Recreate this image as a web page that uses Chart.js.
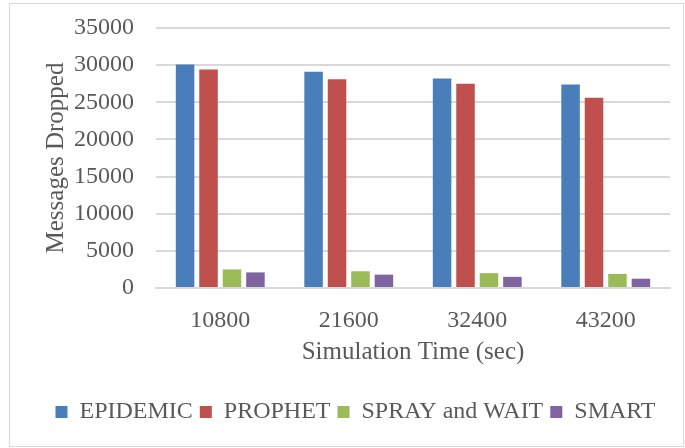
<!DOCTYPE html>
<html>
<head>
<meta charset="utf-8">
<script src="https://cdn.jsdelivr.net/npm/chart.js@4.4.1/dist/chart.umd.min.js"></script>
<style>
  html, body { margin: 0; padding: 0; background: #fff; }
  #wrap { position: relative; width: 685px; height: 448px; }
</style>
</head>
<body>
<div id="wrap"><canvas id="chart" width="685" height="448"></canvas></div>
<script>
// data
const categories = ['10800', '21600', '32400', '43200'];
const epidemic = [30100, 29100, 28200, 27400];
const prophet = [29400, 28100, 27500, 25600];
const sprayWait = [2500, 2250, 2000, 1900];
const smart = [2100, 1800, 1500, 1250];

const yMax = 35000;
const yStep = 5000;

const fontFamily = '"Liberation Serif", "Times New Roman", serif';
const textColor = '#595959';

// light frame around the whole chart, like the Excel export
const framePlugin = {
    id: 'frame',
    afterDraw(chart) {
        const ctx = chart.ctx;
        ctx.save();
        ctx.strokeStyle = '#d9d9d9';
        ctx.lineWidth = 1;
        ctx.strokeRect(9.5, 3.5, 674, 443);
        ctx.restore();
    }
};

const series = [
    { label: 'EPIDEMIC', data: epidemic, color: '#4a7ebb' },
    { label: 'PROPHET', data: prophet, color: '#c0504d' },
    { label: 'SPRAY and WAIT', data: sprayWait, color: '#9bbb59' },
    { label: 'SMART', data: smart, color: '#8064a2' }
];

new Chart(document.getElementById('chart'), {
    type: 'bar',
    data: {
        labels: categories,
        datasets: series.map(s => ({
            label: s.label,
            data: s.data,
            backgroundColor: s.color,
            borderWidth: 0,
            categoryPercentage: 0.73,
            barPercentage: 0.79
        }))
    },
    options: {
        responsive: false,
        animation: false,
        layout: { padding: { left: 41, right: 15, top: 28, bottom: 14 } },
        plugins: {
            legend: {
                position: 'bottom',
                labels: {
                    boxWidth: 12,
                    boxHeight: 12,
                    padding: 7,
                    color: textColor,
                    font: { family: fontFamily, size: 24 }
                }
            },
            tooltip: { enabled: false }
        },
        scales: {
            x: {
                afterFit(scale) {
                    scale.height = 105;
                    scale.paddingLeft = 0;
                    scale.paddingRight = 0;
                },
                grid: { display: false, drawTicks: false },
                border: { color: '#d9d9d9', width: 2 },
                ticks: { color: textColor, padding: 18, font: { family: fontFamily, size: 24 } },
                title: {
                    display: true,
                    text: 'Simulation Time (sec)',
                    color: textColor,
                    padding: { top: 0, bottom: 26 },
                    font: { family: fontFamily, size: 25 }
                }
            },
            y: {
                min: 0,
                max: yMax,
                afterFit(scale) {
                    scale.width = 115;
                    scale.paddingTop = 0;
                    scale.paddingBottom = 0;
                },
                grid: { color: '#d9d9d9', lineWidth: 2, drawTicks: false },
                border: { display: false },
                ticks: {
                    stepSize: yStep,
                    color: textColor,
                    padding: 22,
                    font: { family: fontFamily, size: 24 },
                    callback: v => String(v)
                },
                title: {
                    display: true,
                    text: 'Messages Dropped',
                    color: textColor,
                    padding: 0,
                    font: { family: fontFamily, size: 25 }
                }
            }
        }
    },
    plugins: [framePlugin]
});
</script>
</body>
</html>
